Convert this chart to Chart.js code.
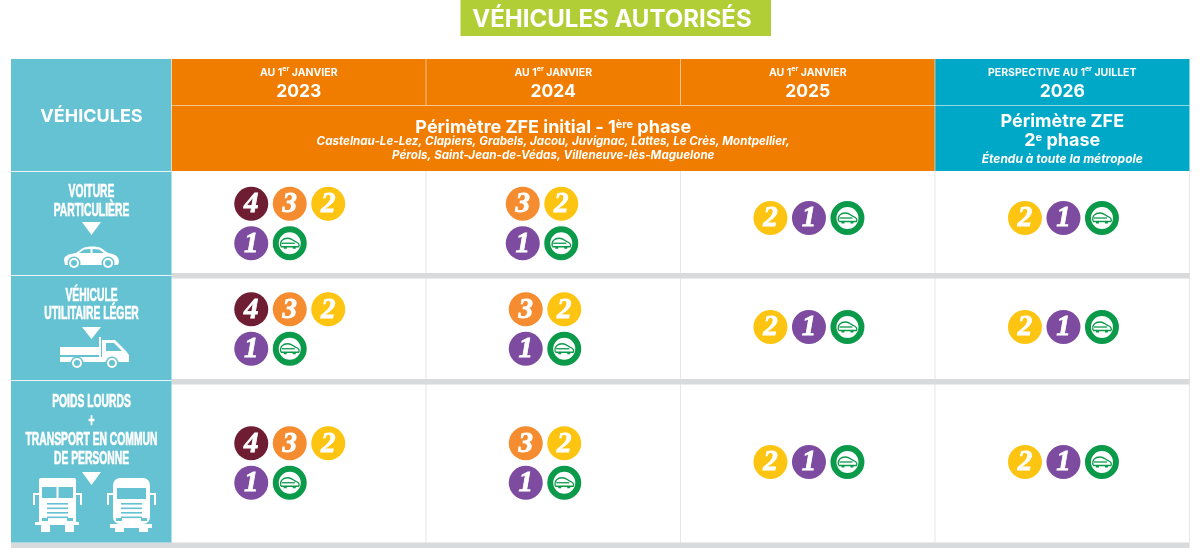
<!DOCTYPE html>
<html lang="fr">

<head>
    <meta charset="UTF-8">
    <title>Véhicules autorisés</title>
    <script src="https://cdn.jsdelivr.net/npm/chart.js@4/dist/chart.umd.min.js"></script>
    <style>
        html, body { margin: 0; padding: 0; background: #fff; }
        canvas { display: block; }
    </style>
</head>

<body>
    <canvas id="zfeChart" width="1200" height="555"></canvas>

    <script>
        // data
        const years = ['2023', '2024', '2025', '2026'];
        const dateLabels = ['AU 1^er^ JANVIER', 'AU 1^er^ JANVIER', 'AU 1^er^ JANVIER', 'PERSPECTIVE AU 1^er^ JUILLET'];
        const vehicleLabels = [
            ['VOITURE', 'PARTICULIÈRE'],
            ['VÉHICULE', 'UTILITAIRE LÉGER'],
            ['POIDS LOURDS', '+', 'TRANSPORT EN COMMUN', 'DE PERSONNE']
        ];
        const critAir = ['4', '3', '2', '1', 'E'];
        const allowedCar = [['4', '3', '2', '1', 'E'], ['3', '2', '1', 'E'], ['2', '1', 'E'], ['2', '1', 'E']];
        const allowedVan = [['4', '3', '2', '1', 'E'], ['3', '2', '1', 'E'], ['2', '1', 'E'], ['2', '1', 'E']];
        const allowedHeavy = [['4', '3', '2', '1', 'E'], ['3', '2', '1', 'E'], ['2', '1', 'E'], ['2', '1', 'E']];
        const communes = [
            'Castelnau-Le-Lez, Clapiers, Grabels, Jacou, Juvignac, Lattes, Le Crès, Montpellier,',
            'Pérols, Saint-Jean-de-Védas, Villeneuve-lès-Maguelone'
        ];

        const allowed = [allowedCar, allowedVan, allowedHeavy];

        // layout, y values are counted from the top of the table body
        const badgeColors = { '4': '#6f1d33', '3': '#f58c2f', '2': '#fdc511', '1': '#7d4b9f', 'E': '#ffffff' };
        const rowEdges = [0, 102, 208, 371.5];
        const rowMiddle = [52.5, 158, 292];
        const rowSingleMiddle = [47, 156, 291];
        const stepX = 38.5, stepY = 39.5;
        const GREEN = '#0b9a4a', TEAL = '#65c2d3', ORANGE = '#f07d00', BLUE = '#00a8c8', BAND = '#d9dadb';
        const headFont = 'Inter, "Open Sans", sans-serif';

        function badgePoint(row, col, slot, total) {
            const unit = 1 / 254.5;
            let dx, y;
            if (total === 3) {
                dx = 1.2 + (slot - 1) * stepX;
                y = rowSingleMiddle[row];
            } else {
                const perLine = total === 5 ? 3 : 2;
                const start = total === 5 ? -47.5 : (row === 0 ? -30.5 : -27.5);
                dx = start + (slot % perLine) * stepX;
                y = rowMiddle[row] + (slot < perLine ? -stepY / 2 : stepY / 2);
            }
            return { x: col + 0.5 + dx * unit, y: y };
        }

        function pointsFor(cls) {
            const pts = [];
            allowed.forEach((rowCells, row) => {
                rowCells.forEach((cell, col) => {
                    const slot = cell.indexOf(cls);
                    if (slot >= 0) pts.push(badgePoint(row, col, slot, cell.length));
                });
            });
            return pts;
        }

        function runsText(ctx, text, cx, y, font, supFont) {
            const parts = text.split('^');
            let width = 0;
            parts.forEach((part, i) => {
                ctx.font = i % 2 ? supFont : font;
                width += ctx.measureText(part).width;
            });
            let x = cx - width / 2;
            ctx.textAlign = 'left';
            ctx.textBaseline = 'alphabetic';
            parts.forEach((part, i) => {
                ctx.font = i % 2 ? supFont : font;
                ctx.fillText(part, x, i % 2 ? y - 5 : y);
                x += ctx.measureText(part).width;
            });
        }

        function centerText(ctx, text, cx, y, font) {
            ctx.font = font;
            ctx.textAlign = 'center';
            ctx.textBaseline = 'middle';
            ctx.fillText(text, cx, y);
        }

        // the vehicle column uses a condensed face, Liberation Sans squeezed sideways
        function narrowText(ctx, text, cx, y) {
            ctx.save();
            ctx.translate(cx, y);
            ctx.scale(0.59, 1);
            centerText(ctx, text, 0, 0, 'bold 17.5px "Liberation Sans", sans-serif');
            ctx.strokeStyle = '#fff';
            ctx.lineWidth = 0.6;
            ctx.strokeText(text, 0, 0);
            ctx.restore();
        }

        function triangle(ctx, cx, top, bottom) {
            ctx.beginPath();
            ctx.moveTo(cx - 9.5, top);
            ctx.lineTo(cx + 9.5, top);
            ctx.lineTo(cx, bottom);
            ctx.closePath();
            ctx.fill();
        }

        function wheel(ctx, x, y, r) {
            ctx.fillStyle = TEAL;
            ctx.beginPath();
            ctx.arc(x, y, r + 1.5, 0, Math.PI * 2);
            ctx.fill();
            ctx.fillStyle = '#fff';
            ctx.beginPath();
            ctx.arc(x, y, r, 0, Math.PI * 2);
            ctx.fill();
            ctx.fillStyle = TEAL;
            ctx.beginPath();
            ctx.arc(x, y, r - 2, 0, Math.PI * 2);
            ctx.fill();
        }

        function drawCar(ctx, x, y) {
            ctx.save();
            ctx.translate(x, y);
            ctx.fillStyle = '#fff';
            ctx.beginPath();
            ctx.moveTo(0, 14);
            ctx.bezierCurveTo(0, 10, 4, 8, 12, 7);
            ctx.lineTo(19, 2);
            ctx.bezierCurveTo(24, 0, 33, 0, 37, 2);
            ctx.lineTo(44, 7);
            ctx.bezierCurveTo(52, 8, 55, 11, 55, 16);
            ctx.lineTo(54, 19);
            ctx.lineTo(1, 19);
            ctx.closePath();
            ctx.fill();
            ctx.fillStyle = TEAL;
            ctx.beginPath();
            ctx.moveTo(15, 7);
            ctx.lineTo(20, 3.5);
            ctx.lineTo(26.5, 3);
            ctx.lineTo(26.5, 7);
            ctx.closePath();
            ctx.moveTo(28.5, 3);
            ctx.lineTo(35, 3.5);
            ctx.lineTo(40, 7);
            ctx.lineTo(28.5, 7);
            ctx.closePath();
            ctx.fill();
            wheel(ctx, 10, 17, 5);
            wheel(ctx, 44, 17, 5);
            ctx.restore();
        }

        function drawPickup(ctx, x, y) {
            ctx.save();
            ctx.translate(x, y);
            ctx.fillStyle = '#fff';
            ctx.fillRect(0, 10, 40, 8);
            ctx.fillRect(0, 20, 69, 5);
            ctx.fillRect(39, 0, 2, 20);
            ctx.beginPath();
            ctx.moveTo(42, 3);
            ctx.lineTo(55, 3);
            ctx.lineTo(66, 14);
            ctx.lineTo(69, 18);
            ctx.lineTo(69, 24);
            ctx.lineTo(42, 24);
            ctx.closePath();
            ctx.fill();
            ctx.fillStyle = TEAL;
            ctx.beginPath();
            ctx.moveTo(46, 6);
            ctx.lineTo(54, 6);
            ctx.lineTo(62, 14);
            ctx.lineTo(46, 14);
            ctx.closePath();
            ctx.fill();
            wheel(ctx, 17, 26, 5);
            wheel(ctx, 52, 26, 5);
            ctx.restore();
        }

        function drawFrontTruck(ctx, x, y, rounded) {
            ctx.save();
            ctx.translate(x, y);
            ctx.fillStyle = '#fff';
            // cab
            ctx.beginPath();
            ctx.roundRect(6, 0, 37, 46, rounded ? 7 : 2);
            ctx.fill();
            ctx.fillRect(8, 46, 9, 8);
            ctx.fillRect(32, 46, 9, 8);
            if (!rounded) ctx.fillRect(2, 44, 44, 3);
            else ctx.fillRect(3, 46, 42, 4);
            // mirrors
            ctx.fillRect(0, 15, 2, 12);
            ctx.fillRect(0, 15, 6, 2);
            ctx.fillRect(47, 15, 2, 12);
            ctx.fillRect(43, 15, 6, 2);
            // windscreen and grille
            ctx.fillStyle = TEAL;
            if (rounded) {
                ctx.fillRect(10, 10, 29, 11);
            } else {
                ctx.fillRect(9, 9, 14.5, 11);
                ctx.fillRect(25.5, 9, 14.5, 11);
            }
            for (let i = 0; i < 4; i++) ctx.fillRect(14, 25 + i * 4.5, 21, 1.6);
            ctx.fillRect(9, 40, 6, 3);
            ctx.fillRect(34, 40, 6, 3);
            ctx.restore();
        }

        function drawEvCar(ctx, cx, cy) {
            ctx.save();
            ctx.translate(cx, cy);
            ctx.strokeStyle = GREEN;
            ctx.lineWidth = 1.3;
            ctx.beginPath();
            ctx.moveTo(-9, 3);
            ctx.bezierCurveTo(-10, -2, -7, -5, -2, -5);
            ctx.bezierCurveTo(2, -5, 4, -2, 7, -1);
            ctx.bezierCurveTo(9, 0, 10, 2, 9, 3.5);
            ctx.lineTo(-9, 3.5);
            ctx.stroke();
            ctx.beginPath();
            ctx.moveTo(-8, 0);
            ctx.lineTo(5, 0);
            ctx.stroke();
            ctx.fillStyle = GREEN;
            ctx.fillRect(-6, 3.5, 3, 2);
            ctx.fillRect(3, 3.5, 3, 2);
            ctx.restore();
        }

        const tablePlugin = {
            id: 'tablePlugin',
            beforeDatasetsDraw(chart) {
                const ctx = chart.ctx;
                const xs = chart.scales.x, ys = chart.scales.y;
                const left = 11, split = xs.getPixelForValue(0), right = xs.getPixelForValue(4);
                const top = 59, midLine = 105, head = ys.getPixelForValue(0);
                const col = i => xs.getPixelForValue(i);
                const row = v => ys.getPixelForValue(v);

                ctx.save();
                // title banner
                ctx.fillStyle = '#b2ce37';
                ctx.fillRect(460.5, 0, 310.5, 36);
                ctx.fillStyle = '#fff';
                centerText(ctx, 'VÉHICULES AUTORISÉS', 612, 20, 'bold 24px ' + headFont);

                // header blocks
                ctx.fillStyle = TEAL;
                ctx.fillRect(left, top, split - left, head - top);
                ctx.fillStyle = ORANGE;
                ctx.fillRect(split, top, col(3) - split, head - top);
                ctx.fillStyle = BLUE;
                ctx.fillRect(col(3), top, right - col(3), head - top);
                ctx.fillStyle = 'rgba(255,255,255,0.55)';
                ctx.fillRect(split, midLine, right - split, 1);
                [1, 2].forEach(i => ctx.fillRect(col(i) - 0.5, top, 1, midLine - top));
                ctx.fillRect(col(3) - 0.5, top, 1, head - top);
                ctx.fillRect(split - 0.5, top, 1, head - top);

                // body grid
                ctx.fillStyle = '#e6e6e6';
                [1, 2, 3, 4].forEach(i => ctx.fillRect(col(i) - 0.5, head, 1, row(rowEdges[3]) - head));
                ctx.fillStyle = BAND;
                ctx.fillRect(split, row(rowEdges[1]), right - split, 5.5);
                ctx.fillRect(split, row(rowEdges[2]), right - split, 5.5);
                ctx.fillRect(left, row(rowEdges[3]), right - left, 5.5);

                // vehicle column
                ctx.fillStyle = TEAL;
                ctx.fillRect(left, head, split - left, row(rowEdges[3]) - head);
                ctx.fillStyle = 'rgba(255,255,255,0.85)';
                ctx.fillRect(left, head, split - left, 1);
                ctx.fillRect(left, row(rowEdges[1]) + 2, split - left, 1);
                ctx.fillRect(left, row(rowEdges[2]) + 1, split - left, 1);

                // header text
                ctx.fillStyle = '#fff';
                centerText(ctx, 'VÉHICULES', 91.5, 117, 'bold 18px ' + headFont);
                years.forEach((year, i) => {
                    const cx = col(i + 0.5);
                    runsText(ctx, dateLabels[i], cx, 76, 'bold 10.5px ' + headFont, 'bold 7px ' + headFont);
                    centerText(ctx, year, cx, 92, 'bold 17.5px ' + headFont);
                });
                runsText(ctx, 'Périmètre ZFE initial - 1^ère^ phase', col(1.5), 133, 'bold 18px ' + headFont, 'bold 11px ' + headFont);
                communes.forEach((line, i) => {
                    centerText(ctx, line, col(1.5), 142 + i * 14, 'italic bold 11.6px ' + headFont);
                });
                const blueX = col(3.5);
                centerText(ctx, 'Périmètre ZFE', blueX, 122, 'bold 18px ' + headFont);
                runsText(ctx, '2^e^ phase', blueX, 146, 'bold 18px ' + headFont, 'bold 11px ' + headFont);
                centerText(ctx, 'Étendu à toute la métropole', blueX, 159, 'italic bold 12px ' + headFont);

                // vehicle labels and icons
                vehicleLabels[0].forEach((t, i) => narrowText(ctx, t, 91.5, 192 + i * 19));
                vehicleLabels[1].forEach((t, i) => narrowText(ctx, t, 91.5, 296 + i * 18.5));
                vehicleLabels[2].forEach((t, i) => narrowText(ctx, t, 91.5, 402 + i * 19));
                triangle(ctx, 91.5, 222, 235);
                triangle(ctx, 91.5, 327, 339);
                triangle(ctx, 91.5, 472, 485);
                drawCar(ctx, 64, 246);
                drawPickup(ctx, 60, 337);
                drawFrontTruck(ctx, 33, 478, false);
                drawFrontTruck(ctx, 107, 478, true);
                ctx.restore();
            },
            afterDatasetsDraw(chart) {
                const ctx = chart.ctx;
                ctx.save();
                chart.data.datasets.forEach((ds, d) => {
                    chart.getDatasetMeta(d).data.forEach(pt => {
                        if (ds.label === 'E') {
                            drawEvCar(ctx, pt.x, pt.y);
                        } else {
                            ctx.fillStyle = '#fff';
                            ctx.strokeStyle = '#fff';
                            ctx.lineWidth = 0.8;
                            centerText(ctx, ds.label, pt.x, pt.y + 1, 'italic bold 29px "Liberation Serif", serif');
                            ctx.strokeText(ds.label, pt.x, pt.y + 1);
                        }
                    });
                });
                ctx.restore();
            }
        };

        new Chart(document.getElementById('zfeChart'), {
            type: 'scatter',
            data: {
                datasets: critAir.map(cls => ({
                    label: cls,
                    data: pointsFor(cls),
                    pointRadius: cls === 'E' ? 14 : 17,
                    pointBackgroundColor: badgeColors[cls],
                    pointBorderColor: cls === 'E' ? GREEN : badgeColors[cls],
                    pointBorderWidth: cls === 'E' ? 6 : 0,
                    pointHoverRadius: cls === 'E' ? 14 : 17
                }))
            },
            options: {
                responsive: false,
                animation: false,
                layout: { autoPadding: false, padding: { left: 171.5, right: 10.5, top: 171, bottom: 12.5 } },
                plugins: { legend: { display: false }, tooltip: { enabled: false }, title: { display: false } },
                scales: {
                    x: { type: 'linear', min: 0, max: 4, display: false },
                    y: { type: 'linear', min: 0, max: 371.5, reverse: true, display: false }
                }
            },
            plugins: [tablePlugin]
        });
    </script>
</body>

</html>
